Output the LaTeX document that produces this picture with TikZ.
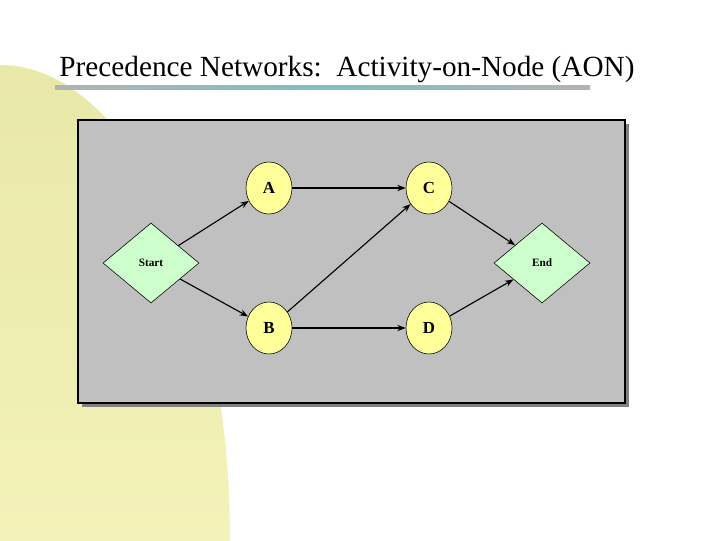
\documentclass[tikz,border=0pt]{standalone}
\usepackage{fontspec}
\setmainfont{Liberation Serif}
\usepackage{tikz}
\usetikzlibrary{shapes.geometric, arrows.meta}
\definecolor{panel}{HTML}{C0C0C0}
\definecolor{act}{HTML}{FFFF99}
\definecolor{milestone}{HTML}{CCFFCC}
\definecolor{paletop}{HTML}{E8E8A8}
\definecolor{palebot}{HTML}{FFFCC8}
\tikzstyle{activity} = [ellipse, minimum width=1.15cm, minimum height=1.3cm, draw=black, fill=act, font=\bfseries\large]
\tikzstyle{event} = [diamond, minimum width=2.4cm, minimum height=2.0cm, inner sep=0pt, draw=black, fill=milestone, font=\bfseries\footnotesize]
\tikzstyle{arrow} = [thick, -{Stealth[length=6pt]}]

\begin{document}
\begin{tikzpicture}[x=0.025cm, y=-0.025cm]
	\useasboundingbox (0,0) rectangle (720,540);

	% Background
	\shade[top color=paletop, bottom color=palebot] (0,540) ellipse [x radius=230, y radius=475];
	\node at (347,70) {\fontsize{20.8}{24}\selectfont Precedence Networks:\ \ Activity-on-Node (AON)};
	\shade[left color=gray!60, right color=gray!60, middle color=teal!50] (55,85) rectangle (590,89);

	% Panel
	\fill[black!50] (82,124) rectangle (629,407);
	\draw[line width=2pt, fill=panel] (78,120) rectangle (625,403);

	% Nodes
	\node (start) [event] at (151,263) {Start};
	\node (a) [activity] at (269,188) {A};
	\node (b) [activity] at (269,328) {B};
	\node (c) [activity] at (429,188) {C};
	\node (d) [activity] at (429,328) {D};
	\node (end) [event] at (542,263) {End};

	% Arrows
	\draw [arrow] (start) -- (a);
	\draw [arrow] (start) -- (b);
	\draw [arrow] (a) -- (c);
	\draw [arrow] (b) -- (d);
	\draw [arrow] (b) -- (c);
	\draw [arrow] (c) -- (end);
	\draw [arrow] (d) -- (end);

\end{tikzpicture}
\end{document}
